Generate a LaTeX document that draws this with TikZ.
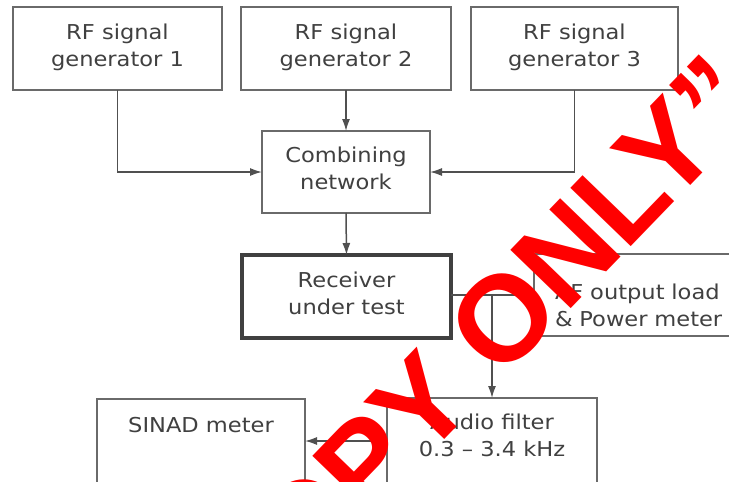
\documentclass[tikz,border=0pt]{standalone}
\usepackage{fontspec}
\setmainfont{DejaVu Sans}[FakeStretch=1.1]
\newfontfamily\stampfont{Liberation Sans}[LetterSpace=-1.5]
\usetikzlibrary{arrows.meta}
\definecolor{boxgray}{HTML}{6A6A6A}
\definecolor{inkgray}{HTML}{404040}
\definecolor{wiregray}{HTML}{505050}
\definecolor{stampred}{HTML}{FF0000}
\begin{document}
\begin{tikzpicture}[x=1pt,y=-1pt,
  blk/.style={draw=boxgray, line width=1.5pt, inner sep=0pt, outer sep=0pt,
    anchor=north west, align=center, text=inkgray, text depth=7pt,
    font=\fontsize{20.5}{27}\selectfont},
  dut/.style={blk, draw=inkgray, line width=3.5pt},
  lbl/.style={inner sep=0pt, text=inkgray, font=\fontsize{20.5}{27}\selectfont},
  wire/.style={draw=wiregray, line width=1.5pt},
  arr/.style={wire, -{Latex[length=12pt,width=8pt]}},
  stamp/.style={text=stampred, inner sep=0pt, rotate=46,
    font=\stampfont\bfseries\fontsize{122}{122}\selectfont}]

\useasboundingbox (0,0) rectangle (729,482);
\clip (0,0) rectangle (729,482);
\fill[white] (0,0) rectangle (729,482);

% signal sources
\node[blk, minimum width=209pt, minimum height=83pt] (g1) at (13,7) {RF signal\\generator 1};
\node[blk, minimum width=210pt, minimum height=83pt] (g2) at (241,7) {RF signal\\generator 2};
\node[blk, minimum width=207pt, minimum height=83pt] (g3) at (471,7) {RF signal\\generator 3};

% combiner and device under test
\node[blk, minimum width=168pt, minimum height=82pt] (comb) at (262,131) {Combining\\network};
\node[dut, minimum width=209pt, minimum height=83pt, text depth=6pt] (rx) at (242,255) {Receiver\\under test};

% audio side
\node[blk, minimum height=82pt, align=left, text width=174pt, inner xsep=21pt] (load) at (534,254) {AF output load\\\& Power meter};
\node[blk, minimum width=208pt, minimum height=84pt] (sinad) at (97,399) {};
\node[lbl, anchor=base] (sinadtxt) at (201,432) {SINAD meter};
\node[blk, minimum width=210pt, minimum height=86pt, text depth=11pt] (filt) at (387,398) {Audio filter\\0.3 – 3.4 kHz};

% connections
\draw[arr] (g1.south) |- (comb.west);
\draw[arr] (g2.south) -- (comb.north);
\draw[arr] (g3.south) |- (comb.east);
\draw[arr] (comb.south) -- (rx.north);
\draw[arr] (rx.east |- load.west) -- (load.west);
\draw[arr] (filt.north |- load.west) -- (filt.north);
\draw[arr] (filt.west) -- (sinad.east);

% stamp across the sheet
\node[stamp] (stamp) at (474,349) {COPY ONLY”};
\end{tikzpicture}
\end{document}
